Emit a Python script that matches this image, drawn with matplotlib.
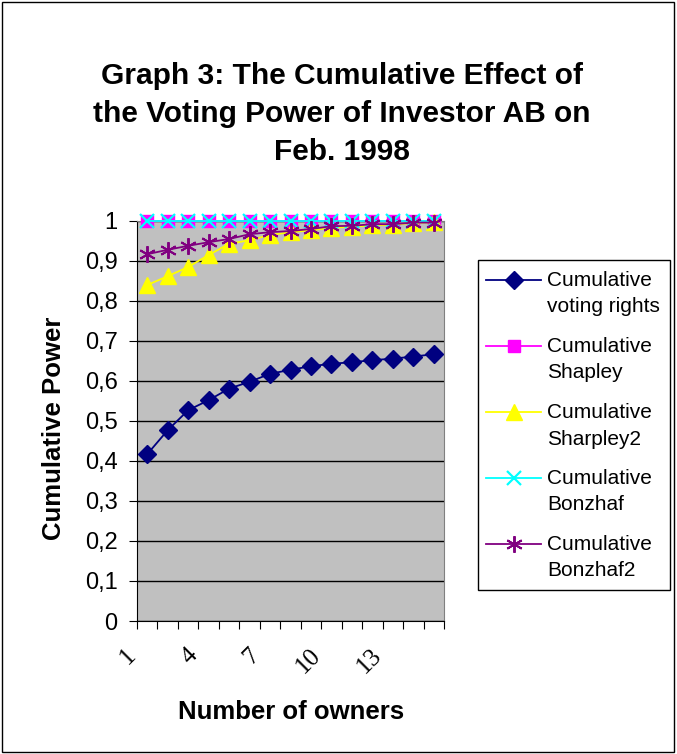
import matplotlib
matplotlib.use("Agg")
import matplotlib.pyplot as plt
from matplotlib.lines import Line2D
import numpy as np

owners = list(range(1, 16))
tick_labels = ["1", "4", "7", "10", "13"]
voting_rights = [0.417, 0.477, 0.527, 0.552, 0.581, 0.598, 0.618, 0.628, 0.637, 0.643, 0.647, 0.652, 0.656, 0.661, 0.667]
shapley = [1.0] * 15
sharpley2 = [0.840, 0.862, 0.885, 0.915, 0.943, 0.952, 0.965, 0.972, 0.977, 0.983, 0.986, 0.989, 0.991, 0.995, 0.997]
bonzhaf = [1.0] * 15
bonzhaf2 = [0.917, 0.928, 0.938, 0.947, 0.955, 0.967, 0.972, 0.975, 0.980, 0.987, 0.988, 0.992, 0.992, 0.996, 0.996]
series_labels = ['Cumulative\nvoting rights', 'Cumulative\nShapley', 'Cumulative\nSharpley2',
                 'Cumulative\nBonzhaf', 'Cumulative\nBonzhaf2']

plt.rcParams['font.family'] = ['Liberation Sans', 'DejaVu Sans']

W, H = 677, 754
fig = plt.figure(figsize=(W/100, H/100), dpi=100)
fig.patch.set_facecolor('white')
fig.add_artist(plt.Rectangle((0.003, 0.002), 0.993, 0.995, transform=fig.transFigure,
                             fill=False, edgecolor='black', linewidth=1))

ax = fig.add_axes([137/W, 1 - 621/H, (444-137)/W, 400/H])
ax.set_facecolor('#C0C0C0')

styles = [
    dict(color='#000080', marker='D', markersize=9, markeredgewidth=1.0),
    dict(color='#FF00FF', marker='s', markersize=9, markeredgewidth=1.0),
    dict(color='#FFFF00', marker='^', markersize=11, markeredgewidth=1.0),
    dict(color='#00FFFF', marker='x', markersize=10, markeredgewidth=1.6),
    dict(color='#800080', marker=(6, 2, 0), markersize=12, markeredgewidth=1.4),
]
series = [voting_rights, shapley, sharpley2, bonzhaf, bonzhaf2]
zorders = [3, 3, 3, 4, 4]

x = np.array(owners)
for ys, st, lbl, z in zip(series, styles, series_labels, zorders):
    ax.plot(x, ys, linewidth=1.3, label=lbl, zorder=z, clip_on=False, **st)

ax.set_xlim(0.5, 15.5)
ax.set_ylim(0, 1)
yt = np.round(np.arange(0, 1.01, 0.1), 1)
ax.set_yticks(yt)
ylabels = []
for v in yt:
    if v in (0.0, 1.0):
        ylabels.append(str(int(v)))
    else:
        ylabels.append(f"{v:.1f}".replace('.', ','))
ax.set_yticklabels(ylabels, fontsize=17)
ax.yaxis.grid(True, color='black', linewidth=1)
ax.set_axisbelow(True)
ax.tick_params(axis='y', length=6, direction='out', pad=8)

ax.set_xticks(np.arange(0.5, 16.5, 1.0))
ax.set_xticklabels([])
ax.tick_params(axis='x', length=6, direction='out')
for lbl, pos in zip(tick_labels, [1, 4, 7, 10, 13]):
    ax.text(pos - 0.33, -0.058, lbl, rotation=45, ha='right', va='top', fontsize=18,
            family=['Liberation Serif'], transform=ax.transData)

for s in ['top', 'right']:
    ax.spines[s].set_color('#808080')
ax.spines['left'].set_color('black')
ax.spines['bottom'].set_color('black')

fig.text(54/W, 1 - 428/H, 'Cumulative Power', rotation=90, ha='center', va='center',
         fontsize=18.5, fontweight='bold')
fig.text(291/W, 1 - 712/H, 'Number of owners', ha='center', va='center',
         fontsize=18.5, fontweight='bold')

fig.text(342/W, 1 - 114/H, 'Graph 3: The Cumulative Effect of\nthe Voting Power of Investor AB on\nFeb. 1998',
         ha='center', va='center', fontsize=21.5, fontweight='bold', linespacing=1.46)

# legend (Excel style: handle aligned with first text line)
fig.add_artist(plt.Rectangle((478/W, 1 - 590/H), (670-478)/W, 330/H, transform=fig.transFigure,
                             facecolor='white', edgecolor='black', linewidth=1))
for i, (st, lbl) in enumerate(zip(styles, series_labels)):
    yc = 280 + 66 * i
    fig.add_artist(Line2D([486/W, 541/W], [1 - yc/H, 1 - yc/H], transform=fig.transFigure,
                          linewidth=1.3, color=st['color']))
    fig.add_artist(Line2D([514/W], [1 - yc/H], transform=fig.transFigure, linestyle='none', **st))
    l1, l2 = lbl.split('\n')
    fig.text(547/W, 1 - yc/H, l1, ha='left', va='center', fontsize=15)
    fig.text(547/W, 1 - (yc + 27)/H, l2, ha='left', va='center', fontsize=15)

fig.savefig('out.png', dpi=100)
